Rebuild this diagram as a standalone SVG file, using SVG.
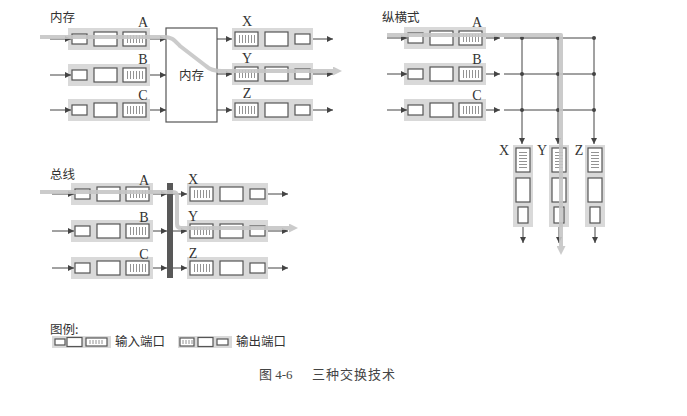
<svg xmlns="http://www.w3.org/2000/svg" xmlns:xlink="http://www.w3.org/1999/xlink" width="687" height="416" viewBox="0 0 687 416">
  <style>
    .bg { fill: #d9d9d9; stroke: none; }
    .box { fill: #ffffff; stroke: #555555; stroke-width: 1.2; }
    .stripe { stroke: #777777; stroke-width: 0.8; fill: none; }
    .wire { stroke: #444444; stroke-width: 1; fill: none; }
    .arr { stroke: #444444; stroke-width: 1; fill: none; marker-end: url(#ah); }
    .hl { stroke: #c6c6c6; stroke-width: 4; fill: none; stroke-linejoin: round; opacity: 0.9; marker-end: url(#hh); }
    .lbl { font-family: "Liberation Serif", "Times New Roman", serif; font-size: 14px; fill: #333333; text-anchor: middle; }
    .cjk { font-family: "Noto Sans CJK SC", "Noto Sans", sans-serif; font-size: 12.5px; fill: #333333; }
    .dot { fill: #444444; }
  </style>
  <defs>
    <marker id="ah" markerUnits="userSpaceOnUse" markerWidth="7" markerHeight="6" refX="6" refY="3" orient="auto">
      <path d="M0,0 L6,3 L0,6 z" fill="#444444"/>
    </marker>
    <marker id="hh" markerUnits="userSpaceOnUse" markerWidth="10" markerHeight="9" refX="3" refY="4.5" orient="auto">
      <path d="M0,0 L9,4.5 L0,9 z" fill="#c6c6c6"/>
    </marker>
    <!-- input port: origin at left edge, vertical centre -->
    <g id="inport">
      <rect class="bg" x="0" y="-11" width="82" height="22"/>
      <rect class="box" x="4" y="-5" width="15" height="10"/>
      <rect class="box" x="26" y="-7" width="23" height="14"/>
      <rect class="box" x="55" y="-7" width="23" height="14"/>
      <path class="stripe" d="M59.5,-4V4M62.5,-4V4M65.5,-4V4M68.5,-4V4M71.5,-4V4M74.5,-4V4"/>
    </g>
    <!-- output port, horizontal -->
    <g id="outport">
      <rect class="bg" x="0" y="-11" width="81" height="22"/>
      <rect class="box" x="3" y="-7" width="23" height="14"/>
      <path class="stripe" d="M7.5,-4V4M10.5,-4V4M13.5,-4V4M16.5,-4V4M19.5,-4V4M22.5,-4V4"/>
      <rect class="box" x="33" y="-7" width="23" height="14"/>
      <rect class="box" x="63" y="-5" width="15" height="10"/>
    </g>
    <!-- output port, vertical column -->
    <g id="colport">
      <rect class="bg" x="0" y="0" width="20" height="82"/>
      <rect class="box" x="3" y="3" width="14" height="24"/>
      <path class="stripe" d="M6,7.5H14M6,10.5H14M6,13.5H14M6,16.5H14M6,19.5H14M6,22.5H14"/>
      <rect class="box" x="3" y="33" width="14" height="24"/>
      <rect class="box" x="5" y="62" width="10" height="16"/>
    </g>
    <!-- legend ports -->
    <g id="leg-in">
      <rect class="bg" x="0" y="0" width="59" height="12"/>
      <rect class="box" x="3" y="3" width="10" height="6"/>
      <rect class="box" x="15" y="1.5" width="15" height="9"/>
      <rect class="box" x="34" y="2" width="21" height="8"/>
      <path class="stripe" d="M38,4V8M41,4V8M44,4V8M47,4V8M50,4V8"/>
    </g>
    <g id="leg-out">
      <rect class="bg" x="0" y="0" width="54" height="12"/>
      <rect class="box" x="2" y="2" width="14" height="8"/>
      <path class="stripe" d="M5,4V8M8,4V8M11,4V8M14,4V8"/>
      <rect class="box" x="20" y="1.5" width="15" height="9"/>
      <rect class="box" x="39" y="3" width="11" height="6"/>
    </g>
  </defs>

  <!-- ===== memory switching ===== -->
  <text class="cjk" x="50" y="22">内存</text>
  <g id="mem-A" transform="translate(68,39)"><use xlink:href="#inport"/><text class="lbl" x="75" y="-12">A</text></g>
  <g id="mem-B" transform="translate(68,75)"><use xlink:href="#inport"/><text class="lbl" x="75" y="-11">B</text></g>
  <g id="mem-C" transform="translate(68,110)"><use xlink:href="#inport"/><text class="lbl" x="75" y="-10">C</text></g>
  <g id="mem-core">
    <rect x="166" y="28" width="51" height="94" fill="#ffffff" stroke="#555555" stroke-width="1.2"/>
    <text class="cjk" x="191.5" y="80" text-anchor="middle" font-size="13">内存</text>
  </g>
  <g id="mem-X" transform="translate(232,39)"><use xlink:href="#outport"/><text class="lbl" x="15" y="-13">X</text></g>
  <g id="mem-Y" transform="translate(232,74)"><use xlink:href="#outport"/><text class="lbl" x="15" y="-11">Y</text></g>
  <g id="mem-Z" transform="translate(232,110)"><use xlink:href="#outport"/><text class="lbl" x="15" y="-12">Z</text></g>

  <!-- ===== crossbar switching ===== -->
  <text class="cjk" x="382" y="22">纵横式</text>
  <g id="xb-A" transform="translate(404,38)"><use xlink:href="#inport"/><text class="lbl" x="73" y="-11">A</text></g>
  <g id="xb-B" transform="translate(404,74)"><use xlink:href="#inport"/><text class="lbl" x="73" y="-10">B</text></g>
  <g id="xb-C" transform="translate(404,110)"><use xlink:href="#inport"/><text class="lbl" x="73" y="-10">C</text></g>
  <g id="xb-X" transform="translate(513,145)"><use xlink:href="#colport"/><text class="lbl" x="-9" y="10">X</text></g>
  <g id="xb-Y" transform="translate(549,145)"><use xlink:href="#colport"/><text class="lbl" x="-7" y="10">Y</text></g>
  <g id="xb-Z" transform="translate(585,145)"><use xlink:href="#colport"/><text class="lbl" x="-6" y="10">Z</text></g>

  <!-- ===== bus switching ===== -->
  <text class="cjk" x="50" y="179">总线</text>
  <g id="bus-A" transform="translate(71,194)"><use xlink:href="#inport"/><text class="lbl" x="73" y="-9">A</text></g>
  <g id="bus-B" transform="translate(71,231)"><use xlink:href="#inport"/><text class="lbl" x="73" y="-9">B</text></g>
  <g id="bus-C" transform="translate(71,268)"><use xlink:href="#inport"/><text class="lbl" x="73" y="-9">C</text></g>
  <g id="bus-bar"><rect x="167" y="183" width="6" height="95" fill="#585858"/></g>
  <g id="bus-X" transform="translate(187,194)"><use xlink:href="#outport"/><text class="lbl" x="6" y="-10">X</text></g>
  <g id="bus-Y" transform="translate(187,231)"><use xlink:href="#outport"/><text class="lbl" x="6" y="-10">Y</text></g>
  <g id="bus-Z" transform="translate(187,268)"><use xlink:href="#outport"/><text class="lbl" x="6" y="-10">Z</text></g>

  <!-- ===== connectors ===== -->
  <g id="connectors">
    <!-- memory -->
    <path class="arr" d="M50,39H71"/>
    <path class="arr" d="M50,75H71"/>
    <path class="arr" d="M50,110H71"/>
    <path class="arr" d="M150,39H166"/>
    <path class="arr" d="M150,75H166"/>
    <path class="arr" d="M150,110H166"/>
    <path class="arr" d="M217,39H232"/>
    <path class="arr" d="M217,74H232"/>
    <path class="arr" d="M217,110H232"/>
    <path class="arr" d="M313,39H333"/>
    <path class="arr" d="M313,74H333"/>
    <path class="arr" d="M313,110H333"/>
    <!-- crossbar -->
    <path class="arr" d="M387,38H407"/>
    <path class="arr" d="M387,74H407"/>
    <path class="arr" d="M387,110H407"/>
    <path class="arr" d="M486,38H500"/>
    <path class="arr" d="M486,74H500"/>
    <path class="arr" d="M486,110H500"/>
    <path class="wire" d="M504,38H595M504,74H595M504,110H595"/>
    <path class="arr" d="M522,38V144"/>
    <path class="arr" d="M558,38V144"/>
    <path class="arr" d="M594,38V144"/>
    <path class="arr" d="M523,227V243"/>
    <path class="arr" d="M559,227V243"/>
    <path class="arr" d="M595,227V243"/>
    <g id="xpoints">
      <circle class="dot" cx="522" cy="38" r="2"/><circle class="dot" cx="558" cy="38" r="2"/><circle class="dot" cx="594" cy="38" r="2"/>
      <circle class="dot" cx="522" cy="74" r="2"/><circle class="dot" cx="558" cy="74" r="2"/><circle class="dot" cx="594" cy="74" r="2"/>
      <circle class="dot" cx="522" cy="110" r="2"/><circle class="dot" cx="558" cy="110" r="2"/><circle class="dot" cx="594" cy="110" r="2"/>
    </g>
    <!-- bus -->
    <path class="arr" d="M52,194H74"/>
    <path class="arr" d="M52,231H74"/>
    <path class="arr" d="M52,268H74"/>
    <path class="arr" d="M153,194H167"/>
    <path class="arr" d="M153,231H167"/>
    <path class="arr" d="M153,268H167"/>
    <path class="arr" d="M173,194H187"/>
    <path class="arr" d="M173,231H187"/>
    <path class="arr" d="M173,268H187"/>
    <path class="arr" d="M268,194H288"/>
    <path class="arr" d="M268,231H288"/>
    <path class="arr" d="M268,268H288"/>
    <!-- highlighted packet paths -->
    <path class="hl" d="M40,37H164C172,37 174,40 180,46L206,66C210,70 214,71 222,71H336"/>
    <path class="hl" d="M387,35H561V249"/>
    <path class="hl" d="M40,192H173Q177,192 177,196V224Q177,228 181,228H292"/>
  </g>

  <!-- ===== legend ===== -->
  <g id="legend">
    <text class="cjk" x="50" y="334">图例:</text>
    <use xlink:href="#leg-in" x="52" y="336"/>
    <text class="cjk" x="115" y="346">输入端口</text>
    <use xlink:href="#leg-out" x="178" y="336"/>
    <text class="cjk" x="236" y="346">输出端口</text>
  </g>

  <!-- caption -->
  <text id="caption" x="259" y="379" font-family="'Liberation Serif', 'Noto Sans CJK SC', serif" font-size="13" fill="#444444"><tspan font-family="'Noto Sans CJK SC', sans-serif">图</tspan> 4-6<tspan x="312" font-family="'Noto Sans CJK SC', sans-serif" letter-spacing="1">三种交换技术</tspan></text>
</svg>
